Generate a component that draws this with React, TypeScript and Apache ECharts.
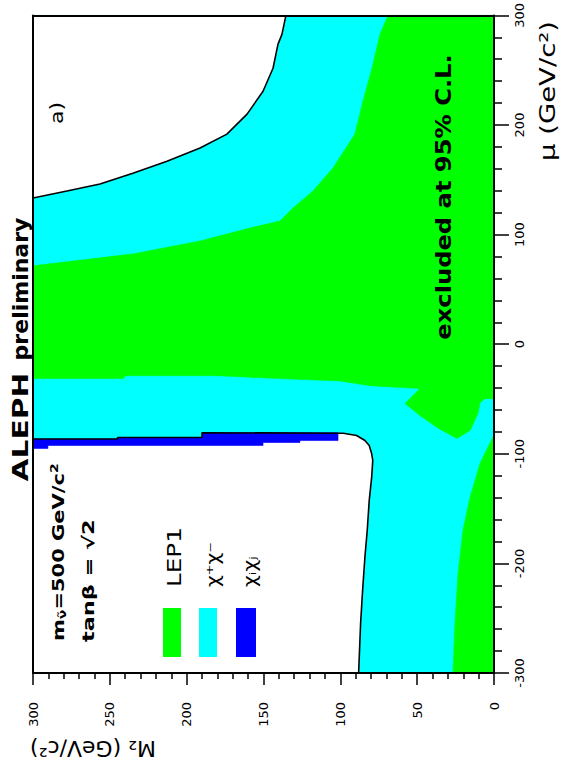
import React, { useEffect, useRef } from "react";
import * as echarts from "echarts";

// Axis ranges (M2 horizontal, shown reversed; mu vertical)
const M2_MIN = 0;
const M2_MAX = 300;
const MU_MIN = -300;
const MU_MAX = 300;

// Boundary of the non-excluded region at large mu (white, upper-left of picture)
const whiteUpperEdge: number[][] = [
  [135.4, 300], [138.0, 282.7], [140.6, 273.6], [143.8, 251.8], [150.3, 230.8],
  [160.7, 209.9], [173.8, 191.7], [191.3, 179.0], [212.8, 167.0], [235.0, 156.0],
  [256.4, 146.1], [277.9, 139.8], [300, 133.4],
];

// LEP1 / chargino boundary in the upper (mu > 0) part
const greenUpperEdge: number[][] = [
  [69.0, 300], [74.2, 282.7], [79.4, 251.8], [85.3, 221.6], [90.5, 191.7],
  [104.8, 160.7], [117.8, 139.8], [130.8, 124.3], [139.3, 112.4], [158.8, 106.0],
  [191.3, 94.2], [235.0, 82.4], [289.0, 73.3], [300, 71.5],
];

// LEP1 / chargino boundary below the main LEP1 band (with the small lobe)
const greenLowerEdge: number[][] = [
  [300, -31.4], [241, -31.4], [240, -28.7], [180, -28.7], [139.3, -31.4],
  [100, -33.5], [80.7, -37.8], [48.2, -40.5], [57.9, -54.2], [48.2, -65.1],
  [37.1, -76.0], [24.1, -86.0], [15.6, -78.8], [10.4, -63.3], [9.1, -53.3],
  [5.9, -49.7], [0, -49.7],
];

// LEP1 region at small M2, negative mu
const greenCornerEdge: number[][] = [
  [0, -83.0], [4.0, -94.0], [9.1, -108.8], [15.6, -139.8], [20.2, -169.8],
  [23.4, -208.9], [25.4, -254.5], [26.7, -300],
];

// Outer boundary of the non-excluded region at negative mu (black line)
const exclusionEdge: number[][] = [
  [300, -86.5], [245, -86.5], [245, -85.1], [190, -85.1], [190, -80.8],
  [98.1, -81.2], [89.4, -83.3], [84.0, -87.9], [81.2, -92.4], [79.6, -100.0],
  [78.9, -106.1], [79.6, -121.3], [81.2, -142.7], [82.5, -170.0], [84.0, -194.1],
  [85.5, -224.4], [86.8, -254.5], [88.1, -300],
];

// Lower edge of the neutralino (blue) strip
const blueLowerEdge: number[][] = [
  [101.5, -81.2], [101.5, -87.9], [126.3, -87.9], [126.3, -89.7], [150.3, -89.7],
  [150.3, -92.4], [290.3, -92.4], [290.3, -95.1], [300, -95.1],
];

const legendLabels = ["LEP1", "χ⁺χ⁻", "χᵢχⱼ"];

const GREEN = "#00ff00";
const CYAN = "#00ffff";
const BLUE = "#0000ff";
const FONT = "DejaVu Sans";

export default function App() {
  const ref = useRef<HTMLDivElement>(null);

  useEffect(() => {
    const chart = echarts.init(ref.current!, null, { renderer: "svg" });

    const polySeries = (name: string, points: number[][], color: string, z: number) => ({
      type: "custom",
      name,
      coordinateSystem: "cartesian2d",
      xAxisIndex: 0,
      yAxisIndex: 0,
      data: [[points[0][0], points[0][1]]],
      silent: true,
      z,
      renderItem: (_params: any, api: any) => ({
        type: "polygon",
        shape: { points: points.map((p) => api.coord(p)) },
        style: { fill: color, stroke: color, lineWidth: 0.6 },
      }),
    });

    const fullDomain = [
      [M2_MIN, MU_MIN], [M2_MAX, MU_MIN], [M2_MAX, MU_MAX], [M2_MIN, MU_MAX],
    ];
    const greenMain = [[M2_MIN, MU_MAX], ...greenUpperEdge, ...greenLowerEdge];
    const greenCorner = [...greenCornerEdge, [M2_MIN, MU_MIN]];
    const whiteUpper = [...whiteUpperEdge, [M2_MAX, MU_MAX]];
    const whiteLower = [...exclusionEdge, [M2_MAX, MU_MIN]];
    const blueStrip = [
      ...exclusionEdge.filter((p) => p[0] >= 101.5),
      [101.5, -80.8],
      ...blueLowerEdge,
    ];

    const lineSeries = (points: number[][]) => ({
      type: "line",
      data: points,
      showSymbol: false,
      silent: true,
      z: 5,
      lineStyle: { color: "#000", width: 1.6 },
    });

    const axisLineStyle = { color: "#000", width: 2 };

    const rotText = (
      text: string,
      x: number,
      y: number,
      size: number,
      bold: boolean,
      opts: any = {}
    ) => ({
      type: "text",
      x,
      y,
      rotation: opts.rotation ?? Math.PI / 2,
      scaleX: opts.scaleX ?? 1,
      scaleY: 1,
      z: 20,
      style: {
        text,
        fill: "#000",
        fontSize: size,
        fontWeight: bold ? "bold" : "normal",
        fontFamily: FONT,
        align: opts.align ?? "center",
        textAlign: opts.align ?? "center",
        verticalAlign: "middle",
        textVerticalAlign: "middle",
        rich: opts.rich,
      },
    });

    const option: any = {
      animation: false,
      backgroundColor: "#fff",
      grid: { left: 33, top: 14, right: 67, bottom: 109, containLabel: false },
      xAxis: [
        {
          type: "value",
          min: M2_MIN,
          max: M2_MAX,
          interval: 50,
          inverse: true,
          position: "bottom",
          z: 10,
          axisLine: { show: true, onZero: false, lineStyle: axisLineStyle },
          axisTick: { show: true, length: 12, lineStyle: { color: "#000", width: 1.5 } },
          minorTick: { show: true, splitNumber: 5, length: 6, lineStyle: { color: "#000", width: 1.5 } },
          splitLine: { show: false },
          minorSplitLine: { show: false },
          axisLabel: { rotate: 90, margin: 29, fontSize: 13, color: "#000", fontFamily: FONT },
        },
        {
          type: "value",
          min: M2_MIN,
          max: M2_MAX,
          inverse: true,
          position: "top",
          z: 10,
          axisLine: { show: true, onZero: false, lineStyle: axisLineStyle },
          axisTick: { show: false },
          axisLabel: { show: false },
          splitLine: { show: false },
        },
      ],
      yAxis: [
        {
          type: "value",
          min: MU_MIN,
          max: MU_MAX,
          interval: 100,
          position: "right",
          z: 10,
          axisLine: { show: true, onZero: false, lineStyle: axisLineStyle },
          axisTick: { show: true, length: 15, lineStyle: { color: "#000", width: 1.5 } },
          minorTick: { show: true, splitNumber: 5, length: 8, lineStyle: { color: "#000", width: 1.5 } },
          splitLine: { show: false },
          minorSplitLine: { show: false },
          axisLabel: {
            rotate: 90,
            margin: 19,
            align: "center",
            verticalAlign: "top",
            fontSize: 13,
            color: "#000",
            fontFamily: FONT,
          },
        },
        {
          type: "value",
          min: MU_MIN,
          max: MU_MAX,
          position: "left",
          z: 10,
          axisLine: { show: true, onZero: false, lineStyle: axisLineStyle },
          axisTick: { show: false },
          axisLabel: { show: false },
          splitLine: { show: false },
        },
      ],
      series: [
        polySeries("chargino", fullDomain, CYAN, 1),
        polySeries("LEP1", greenMain, GREEN, 2),
        polySeries("LEP1 corner", greenCorner, GREEN, 2),
        polySeries("allowed upper", whiteUpper, "#ffffff", 3),
        polySeries("allowed lower", whiteLower, "#ffffff", 3),
        polySeries("neutralino", blueStrip, BLUE, 4),
        lineSeries(whiteUpperEdge),
        lineSeries(exclusionEdge),
      ],
      graphic: [
        rotText("ALEPH", 20, 427, 22, true, { scaleX: 1.35 }),
        rotText("preliminary", 20, 289, 22, true),
        rotText("excluded at 95% C.L.", 443, 197, 22, true, { scaleX: 1.1 }),
        rotText("a)", 57, 113, 17, false, { scaleX: 1.3 }),
        rotText("μ (GeV/c²)", 547, 91, 22, false, { scaleX: 1.25 }),
        rotText("M₂ (GeV/c²)", 93, 748, 22, false, { rotation: Math.PI }),
        rotText("{a|m}{b|ν̃}{a|=500 GeV/c}{c|2}", 59, 641, 15, true, {
          align: "left",
          scaleX: 1.4,
          rich: {
            a: { fontSize: 15, fontWeight: "bold", fontFamily: FONT, lineHeight: 18, verticalAlign: "middle" },
            b: { fontSize: 10, fontWeight: "bold", fontFamily: FONT, lineHeight: 18, verticalAlign: "bottom" },
            c: { fontSize: 10, fontWeight: "bold", fontFamily: FONT, lineHeight: 18, verticalAlign: "top" },
          },
        }),
        rotText("tanβ = √2", 89, 642, 16, true, { align: "left", scaleX: 1.4 }),
        rotText(legendLabels[0], 175, 587, 19, false, { align: "left", scaleX: 1.3 }),
        rotText(legendLabels[1], 213, 587, 17, false, { align: "left", scaleX: 1.2 }),
        rotText(legendLabels[2], 250, 587, 17, false, { align: "left", scaleX: 1.2 }),
        { type: "rect", shape: { x: 163, y: 608, width: 18, height: 49 }, style: { fill: GREEN }, z: 20 },
        { type: "rect", shape: { x: 199, y: 608, width: 18, height: 49 }, style: { fill: CYAN }, z: 20 },
        { type: "rect", shape: { x: 236, y: 608, width: 20, height: 49 }, style: { fill: BLUE }, z: 20 },
      ],
    };

    chart.setOption(option);
    return () => chart.dispose();
  }, []);

  return (
    <div
      ref={ref}
      style={{ position: "absolute", left: 0, top: 0, width: 561, height: 782 }}
    />
  );
}
